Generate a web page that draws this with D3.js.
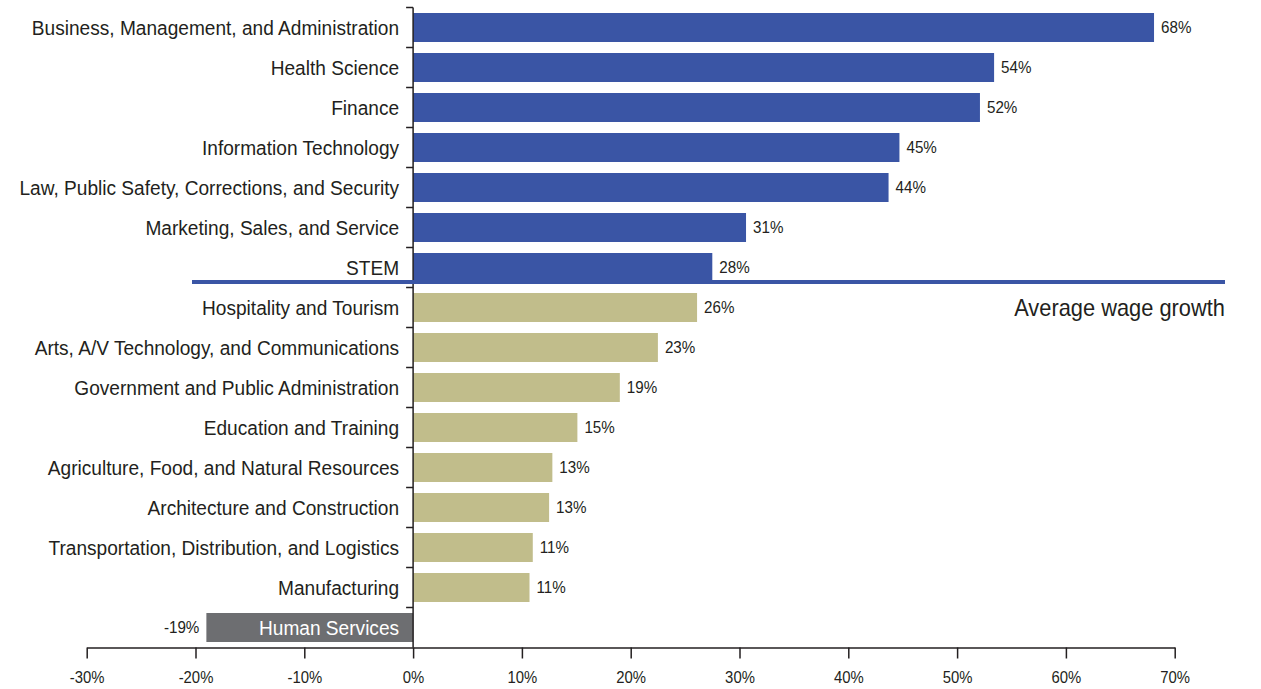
<!DOCTYPE html>
<html>
<head>
<meta charset="utf-8">
<script src="https://cdn.jsdelivr.net/npm/d3@7"></script>
<style>
  body { margin: 0; background: #fff; }
  text { font-family: "Liberation Sans Narrow", "Liberation Sans", sans-serif; fill: #231f20; }
</style>
</head>
<body>
<script>
var categories = ['Business, Management, and Administration', 'Health Science', 'Finance',
  'Information Technology', 'Law, Public Safety, Corrections, and Security',
  'Marketing, Sales, and Service', 'STEM', 'Hospitality and Tourism',
  'Arts, A/V Technology, and Communications', 'Government and Public Administration',
  'Education and Training', 'Agriculture, Food, and Natural Resources',
  'Architecture and Construction', 'Transportation, Distribution, and Logistics',
  'Manufacturing', 'Human Services'];
var values = [68.1, 53.4, 52.1, 44.7, 43.7, 30.6, 27.5, 26.1, 22.5, 19.0, 15.1, 12.8, 12.5, 11.0, 10.7, -19.0];
var valueLabels = ['68%', '54%', '52%', '45%', '44%', '31%', '28%', '26%', '23%', '19%', '15%',
  '13%', '13%', '11%', '11%', '-19%'];
var groups = ['above', 'above', 'above', 'above', 'above', 'above', 'above',
  'below', 'below', 'below', 'below', 'below', 'below', 'below', 'below', 'negative'];
var tickValues = [-30, -20, -10, 0, 10, 20, 30, 40, 50, 60, 70];
var avgLabel = 'Average wage growth';

var width = 1261;
var height = 689;

var colors = { above: '#3a55a5', below: '#c1bd8b', negative: '#6d6e71' };
var narrow = 0.91; // squeeze text to look like a condensed face

var svg = d3.select('body').append('svg')
  .attr('width', width)
  .attr('height', height);

var x = d3.scaleLinear().domain([-30, 70]).range([86.7, 1174.7]);
var y = d3.scaleBand().domain(categories).range([7.5, 647.5]).paddingInner(0.275).paddingOuter(0.1375);

var rows = categories.map(function(c, i) {
  return { name: c, value: values[i], label: valueLabels[i], group: groups[i] };
});

// bars
svg.selectAll('rect.bar').data(rows).enter().append('rect')
  .attr('class', 'bar')
  .attr('x', function(d) { return x(Math.min(0, d.value)); })
  .attr('y', function(d) { return y(d.name); })
  .attr('width', function(d) { return Math.abs(x(d.value) - x(0)); })
  .attr('height', y.bandwidth())
  .attr('fill', function(d) { return colors[d.group]; });

// category labels
svg.selectAll('g.cat').data(rows).enter().append('g')
  .attr('class', 'cat')
  .attr('transform', function(d) {
    return 'translate(' + (x(0) - 14) + ',' + (y(d.name) + y.bandwidth() / 2) + ') scale(' + narrow + ',1)';
  })
  .append('text')
  .attr('dy', '0.35em')
  .attr('text-anchor', 'end')
  .style('font-size', '21px')
  .style('fill', function(d) { return d.group == 'negative' ? '#fff' : '#231f20'; })
  .text(function(d) { return d.name; });

// value labels
svg.selectAll('g.val').data(rows).enter().append('g')
  .attr('class', 'val')
  .attr('transform', function(d) {
    var px = d.value < 0 ? x(d.value) - 7 : x(d.value) + 7;
    return 'translate(' + px + ',' + (y(d.name) + y.bandwidth() / 2) + ') scale(0.95,1)';
  })
  .append('text')
  .attr('dy', '0.35em')
  .attr('text-anchor', function(d) { return d.value < 0 ? 'end' : 'start'; })
  .style('font-size', '16px')
  .text(function(d) { return d.label; });

// vertical axis with ticks between rows
var step = y.step();
var gap = (step - y.bandwidth()) / 2;
svg.append('line')
  .attr('x1', x(0)).attr('x2', x(0))
  .attr('y1', y.range()[0]).attr('y2', y.range()[1])
  .attr('stroke', '#231f20').attr('stroke-width', 1.5);
svg.selectAll('line.ytick').data(categories).enter().append('line')
  .attr('class', 'ytick')
  .attr('x1', x(0) - 7).attr('x2', x(0))
  .attr('y1', function(d) { return y(d) - gap; })
  .attr('y2', function(d) { return y(d) - gap; })
  .attr('stroke', '#231f20').attr('stroke-width', 1.5);

// bottom axis
var xAxis = d3.axisBottom(x)
  .tickValues(tickValues)
  .tickSize(11)
  .tickSizeOuter(0)
  .tickFormat(function(d) { return d + '%'; });
var gx = svg.append('g')
  .attr('transform', 'translate(0,' + y.range()[1] + ')')
  .call(xAxis);
gx.select('.domain').attr('stroke', '#231f20').attr('stroke-width', 1.5);
gx.selectAll('.tick line').attr('stroke', '#231f20').attr('stroke-width', 1.5);
gx.selectAll('.tick text')
  .attr('y', 24)
  .attr('transform', 'scale(0.93,1)')
  .style('font-size', '16px')
  .style('font-family', '"Liberation Sans Narrow", "Liberation Sans", sans-serif')
  .attr('fill', '#231f20');

// average wage growth line below STEM
var avgY = y('STEM') + y.bandwidth();
svg.append('line')
  .attr('x1', 192).attr('x2', 1225)
  .attr('y1', avgY).attr('y2', avgY)
  .attr('stroke', colors.above).attr('stroke-width', 4);
svg.append('g')
  .attr('transform', 'translate(1225,' + (y('Hospitality and Tourism') + y.bandwidth() / 2) + ') scale(0.95,1)')
  .append('text')
  .attr('dy', '0.35em')
  .attr('text-anchor', 'end')
  .style('font-size', '23px')
  .text(avgLabel);
</script>
</body>
</html>
